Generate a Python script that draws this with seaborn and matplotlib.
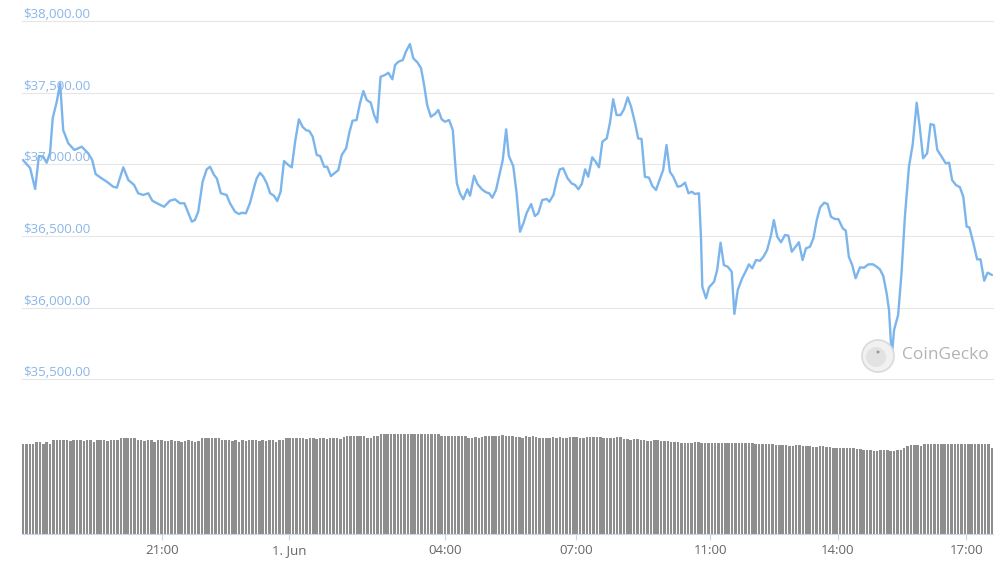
import matplotlib
matplotlib.use('Agg')
import matplotlib.pyplot as plt
from matplotlib.patches import Ellipse
import seaborn as sns
import numpy as np

# x runs in 5-minute steps (0 .. 287) across the 24h window
price_step = [
    0.0, 2.1, 3.6, 4.7, 6.0, 7.0, 8.0, 8.8, 10.0, 11.0,
    11.9, 13.4, 15.2, 17.4, 19.3, 20.5, 21.5, 23.3, 24.8, 26.7,
    27.8, 29.7, 31.2, 32.9, 34.1, 35.6, 37.1, 38.3, 40.1, 41.8,
    43.5, 45.0, 46.5, 47.8, 49.0, 50.0, 50.9, 51.9, 53.2, 54.4,
    55.4, 56.6, 57.4, 58.6, 60.3, 61.3, 62.8, 64.0, 64.8, 66.0,
    67.2, 68.5, 69.2, 70.2, 71.2, 72.2, 73.2, 74.3, 75.3, 76.3,
    77.3, 78.6, 79.6, 80.6, 81.7, 82.8, 83.8, 84.8, 85.8, 87.0,
    88.0, 89.2, 90.1, 91.2, 93.4, 94.4, 95.7, 96.6, 97.6, 98.8,
    99.8, 100.8, 101.8, 103.0, 104.0, 104.9, 105.9, 107.2, 108.2, 109.4,
    110.2, 111.2, 112.5, 113.4, 114.6, 115.6, 116.8, 117.9, 118.8, 119.7,
    120.8, 122.0, 123.0, 124.0, 125.0, 126.2, 127.3, 128.0, 128.5, 129.4,
    130.4, 131.6, 132.4, 133.6, 134.6, 135.9, 137.1, 138.1, 139.0, 140.1,
    141.1, 142.1, 143.1, 143.9, 145.2, 146.2, 147.2, 148.2, 149.2, 150.5,
    151.6, 152.6, 153.8, 155.1, 155.9, 157.1, 158.1, 159.0, 160.0, 161.3,
    162.5, 163.5, 164.5, 165.5, 166.5, 167.4, 168.6, 169.6, 170.6, 171.6,
    172.9, 173.9, 174.8, 175.8, 177.0, 178.0, 179.1, 180.1, 181.3, 182.2,
    183.2, 184.2, 185.4, 186.4, 187.5, 188.7, 189.6, 190.6, 191.6, 192.6,
    193.9, 194.9, 196.1, 197.1, 198.1, 199.0, 200.2, 200.8, 201.2, 202.3,
    203.2, 204.7, 205.6, 206.6, 207.6, 208.7, 209.9, 210.7, 211.7, 213.0,
    214.0, 215.0, 216.0, 217.1, 218.3, 219.3, 220.4, 221.5, 222.4, 223.4,
    224.5, 225.7, 226.7, 227.7, 228.7, 229.8, 230.9, 231.9, 233.1, 234.1,
    235.1, 236.1, 237.3, 238.3, 239.3, 240.5, 241.5, 242.8, 243.7, 244.6,
    245.6, 246.6, 247.9, 249.1, 250.4, 251.8, 252.8, 253.8, 254.8, 255.8,
    256.5, 257.3, 258.0, 259.2, 260.2, 261.2, 262.4, 263.5, 264.7, 265.6,
    266.6, 267.8, 268.8, 269.8, 270.8, 272.1, 273.3, 274.3, 275.2, 276.3,
    277.5, 278.5, 279.5, 280.3, 281.5, 282.6, 283.6, 284.7, 285.7, 287.0,
]
price_usd = [
    37030, 36974, 36828, 37058, 37053, 37011, 37079, 37323, 37437, 37565,
    37239, 37147, 37100, 37123, 37077, 37030, 36932, 36902, 36879, 36844,
    36837, 36979, 36890, 36856, 36798, 36786, 36798, 36746, 36723, 36704,
    36746, 36756, 36728, 36728, 36658, 36600, 36611, 36669, 36879, 36965,
    36983, 36925, 36902, 36798, 36786, 36728, 36669, 36653, 36662, 36658,
    36728, 36844, 36902, 36941, 36913, 36867, 36798, 36781, 36744, 36809,
    37023, 36995, 36979, 37158, 37314, 37262, 37239, 37232, 37193, 37065,
    37058, 36983, 36983, 36918, 36960, 37065, 37112, 37216, 37304, 37309,
    37426, 37511, 37449, 37430, 37344, 37293, 37611, 37623, 37639, 37593,
    37693, 37716, 37728, 37786, 37839, 37740, 37712, 37670, 37553, 37414,
    37332, 37351, 37379, 37314, 37297, 37309, 37239, 37007, 36867, 36798,
    36756, 36826, 36781, 36920, 36863, 36826, 36805, 36798, 36767, 36821,
    36925, 37030, 37244, 37058, 36988, 36798, 36530, 36588, 36662, 36723,
    36639, 36658, 36751, 36758, 36739, 36786, 36890, 36965, 36972, 36902,
    36867, 36856, 36826, 36863, 36965, 36913, 37049, 37018, 36979, 37158,
    37181, 37297, 37454, 37344, 37344, 37384, 37467, 37402, 37286, 37181,
    37177, 36913, 36907, 36849, 36821, 36902, 36960, 37135, 36948, 36913,
    36844, 36849, 36872, 36798, 36809, 36793, 36798, 36495, 36146, 36065,
    36142, 36181, 36263, 36453, 36297, 36286, 36251, 35956, 36123, 36205,
    36251, 36302, 36274, 36332, 36327, 36355, 36402, 36500, 36611, 36495,
    36456, 36507, 36502, 36390, 36421, 36456, 36332, 36414, 36425, 36484,
    36611, 36700, 36732, 36723, 36634, 36618, 36618, 36553, 36537, 36355,
    36297, 36205, 36281, 36279, 36302, 36302, 36286, 36267, 36221, 36100,
    35983, 35658, 35844, 35949, 36240, 36634, 36983, 37135, 37430, 37262,
    37042, 37077, 37281, 37274, 37100, 37053, 37007, 37011, 36890, 36856,
    36840, 36774, 36565, 36560, 36449, 36337, 36337, 36188, 36244, 36228,
]

# one volume bar per 5-minute step (24h rolling volume, $B)
volume_b = [
    36.0, 36.0, 36.0, 36.0, 36.8, 36.8, 36.0, 36.8, 36.0, 37.6, 37.6, 37.6,
    37.6, 37.6, 37.2, 37.6, 37.6, 37.6, 37.2, 37.6, 37.6, 37.0, 37.6, 37.6,
    37.6, 37.2, 37.6, 37.6, 37.6, 38.6, 38.6, 38.6, 38.6, 38.6, 37.6, 37.6,
    37.2, 37.6, 37.6, 37.0, 37.6, 37.6, 37.2, 37.2, 37.6, 37.2, 37.2, 37.0,
    37.2, 37.6, 37.2, 37.0, 37.2, 38.6, 38.6, 38.6, 38.6, 38.6, 38.6, 37.6,
    37.6, 37.6, 37.2, 37.6, 37.0, 37.6, 37.2, 37.6, 37.6, 37.6, 37.2, 37.6,
    37.2, 37.6, 37.6, 37.0, 37.6, 37.6, 38.6, 38.6, 38.6, 38.6, 38.6, 38.6,
    38.2, 38.6, 38.6, 38.2, 38.4, 38.4, 38.2, 38.4, 38.4, 38.4, 38.2, 38.8,
    39.2, 39.2, 39.2, 39.4, 39.4, 39.2, 38.6, 38.6, 39.4, 39.2, 40.0, 40.0,
    40.0, 40.0, 40.0, 40.0, 40.0, 40.0, 40.0, 40.0, 40.0, 40.0, 40.0, 40.0,
    40.0, 40.0, 40.0, 40.0, 39.4, 39.2, 39.4, 39.4, 39.2, 39.2, 39.2, 39.4,
    38.6, 38.6, 39.0, 38.4, 38.8, 39.2, 39.2, 39.4, 39.4, 39.2, 39.6, 39.2,
    39.2, 39.2, 38.8, 38.8, 38.4, 39.2, 38.8, 39.2, 38.8, 38.6, 38.4, 38.4,
    38.4, 38.8, 38.4, 39.0, 38.4, 38.4, 38.8, 39.0, 39.0, 38.4, 38.4, 39.0,
    39.0, 38.8, 38.8, 38.8, 38.4, 38.4, 38.6, 38.4, 38.8, 38.8, 38.2, 38.0,
    37.8, 38.0, 38.0, 37.6, 37.6, 37.4, 37.2, 37.6, 37.6, 37.2, 37.2, 37.2,
    37.0, 36.8, 36.8, 36.6, 36.4, 36.6, 36.6, 36.8, 36.8, 36.4, 36.4, 36.4,
    36.4, 36.4, 36.4, 36.4, 36.4, 36.4, 36.4, 36.4, 36.4, 36.4, 36.4, 36.4,
    36.4, 36.0, 36.0, 36.0, 36.0, 36.0, 36.0, 35.6, 35.6, 35.6, 35.6, 35.2,
    35.2, 35.6, 35.6, 35.2, 35.2, 35.2, 34.8, 35.0, 35.2, 35.2, 34.8, 34.8,
    34.6, 34.4, 34.4, 34.4, 34.4, 34.4, 34.4, 34.2, 34.0, 33.6, 33.6, 33.6,
    33.2, 33.2, 33.6, 33.6, 33.6, 33.2, 33.2, 33.6, 33.8, 34.4, 35.2, 35.6,
    35.6, 35.6, 35.2, 36.0, 36.0, 36.0, 36.0, 36.0, 36.0, 36.0, 36.0, 36.0,
    36.0, 36.0, 36.0, 36.0, 36.0, 36.0, 36.0, 36.0, 36.0, 36.0, 36.0, 34.4,
]

price_levels = [35500, 36000, 36500, 37000, 37500, 38000]
tick_pos = [41.2, 78.9, 125.1, 163.8, 203.6, 241.4, 279.4]
tick_labels = ['21:00', '1. Jun', '04:00', '07:00', '11:00', '14:00', '17:00']

assert len(price_step) == len(price_usd)
assert len(volume_b) == 288

sns.set_theme(style='white')
plt.rcParams['font.family'] = ['Open Sans', 'DejaVu Sans']

fig = plt.figure(figsize=(10.04, 5.72), dpi=100)
left, width = 22 / 1004, 971 / 1004
ax_p = fig.add_axes([left, (572 - 379.3) / 572, width, 358.3 / 572])
ax_v = fig.add_axes([left, (572 - 534) / 572, width, 100 / 572])

# price panel
for lvl in price_levels:
    ax_p.axhline(lvl, color='#e6e6e6', lw=0.8, zorder=0, clip_on=False)
    ax_p.annotate(f'${lvl:,.2f}', xy=(0, lvl), xycoords=ax_p.get_yaxis_transform(),
                  xytext=(0.6, 2.2), textcoords='offset points', ha='left', va='baseline',
                  fontsize=9.5, color='#8ab6e8', zorder=1)

sns.lineplot(x=price_step, y=price_usd, ax=ax_p, color='#7cb5ec', linewidth=1.7,
             estimator=None, sort=False, zorder=3)
ax_p.set_xlim(-0.3, 287.3)
ax_p.set_ylim(35500, 38000)
ax_p.axis('off')

# CoinGecko watermark
fig.add_artist(Ellipse((878 / 1004, 1 - 356 / 572), 32 / 1004, 32 / 572,
                       facecolor='#f1f1f1', edgecolor='#dadada', lw=1.2, zorder=1))
fig.add_artist(Ellipse((876 / 1004, 1 - 357 / 572), 20 / 1004, 20 / 572,
                       facecolor='#e2e2e2', edgecolor='none', zorder=1))
fig.add_artist(Ellipse((878 / 1004, 1 - 352 / 572), 3 / 1004, 3 / 572,
                       facecolor='#9a9a9a', edgecolor='none', zorder=1))
fig.text(902 / 1004, 1 - 355 / 572, 'CoinGecko', fontsize=12.5, color='#b3b3b3',
         ha='left', va='center', zorder=1)

# volume panel
sns.barplot(x=np.arange(len(volume_b)), y=volume_b, ax=ax_v, color='#8e8e8e',
            saturation=1, width=0.74, native_scale=True, errorbar=None, linewidth=0)
ax_v.set_xlim(-0.3, 287.3)
ax_v.set_ylim(0, 40)
for side in ['left', 'right', 'top']:
    ax_v.spines[side].set_visible(False)
ax_v.spines['bottom'].set_color('#ccd6eb')
ax_v.spines['bottom'].set_linewidth(0.8)
ax_v.set_yticks([])
ax_v.set_xticks(tick_pos)
ax_v.set_xticklabels(tick_labels)
ax_v.tick_params(axis='x', bottom=True, length=4.5, width=0.8, color='#ccd6eb',
                 labelcolor='#666666', labelsize=9.5, pad=3)
ax_v.set_xlabel('')
ax_v.set_ylabel('')

fig.savefig('out.png', dpi=100)
